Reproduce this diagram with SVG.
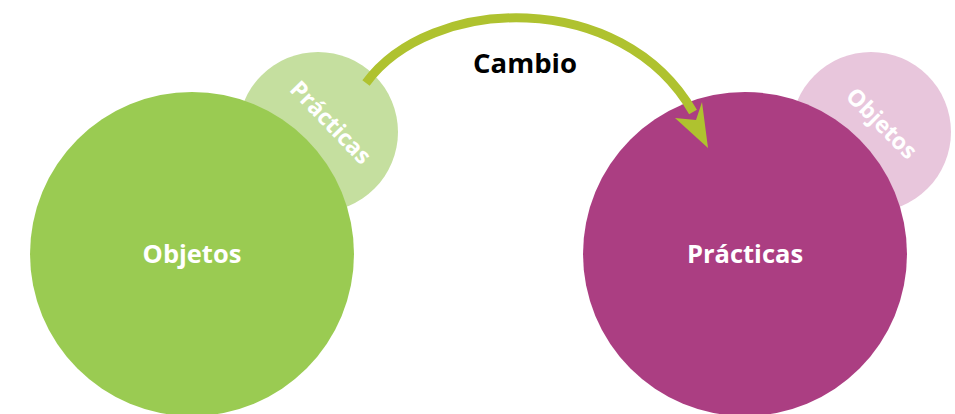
<svg xmlns="http://www.w3.org/2000/svg" width="955" height="414" viewBox="0 0 955 414">
<style>
.lbl{font-family:"Open Sans","Liberation Sans",sans-serif;font-weight:bold;fill:#fff;text-anchor:middle}
.big{font-size:25.5px}
.small{font-size:23px}
.title{font-family:"Open Sans","Liberation Sans",sans-serif;font-weight:bold;font-size:27.5px;fill:#000;text-anchor:middle}
</style>
<rect width="955" height="414" fill="#fff"/>
<g id="practicas-small">
<circle cx="318" cy="132" r="80" fill="#C5DF9F"/>
<text class="lbl small" transform="translate(325,128) rotate(46)">Prácticas</text>
</g>
<g id="objetos-big">
<circle cx="192" cy="254" r="162" fill="#9ACB52"/>
<text class="lbl big" x="192" y="263">Objetos</text>
</g>
<g id="objetos-small">
<circle cx="871" cy="132" r="80" fill="#E8C6DC"/>
<text class="lbl small" transform="translate(876,129) rotate(45)">Objetos</text>
</g>
<g id="practicas-big">
<circle cx="745" cy="254" r="162" fill="#AB3E82"/>
<text class="lbl big" x="745" y="263">Prácticas</text>
</g>
<g id="connectors">
<path d="M366,83 C430,-5 622,-12 693,112" fill="none" stroke="#AFC22F" stroke-width="9"/>
<polygon points="675,118 708,148 702,102 696,120" fill="#AFC22F"/>
</g>
<text class="title" x="525" y="73">Cambio</text>
</svg>
